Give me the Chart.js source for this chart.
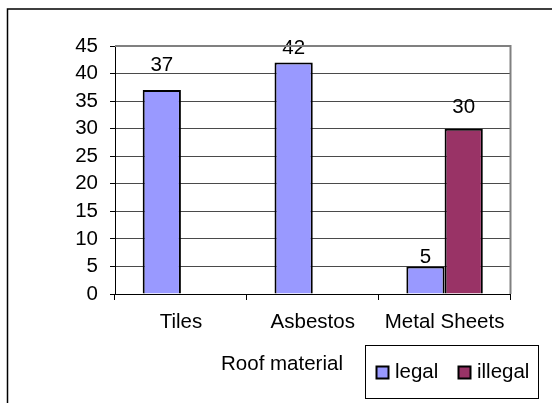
<!DOCTYPE html>
<html>
<head>
<meta charset="utf-8">
<title>Roof material</title>
<script src="https://cdn.jsdelivr.net/npm/chart.js@4/dist/chart.umd.min.js"></script>
<style>
    html, body { margin: 0; padding: 0; background: #fff; }
    #chart-container { width: 552px; height: 403px; }
</style>
</head>
<body>
<div id="chart-container"><canvas id="roof-chart" width="552" height="403"></canvas></div>
<script>
// Chart data
const categories = ['Tiles', 'Asbestos', 'Metal Sheets'];
const legalValues = [37, 42, 5];
const illegalValues = [null, null, 30];
const yTicks = [0, 5, 10, 15, 20, 25, 30, 35, 40, 45];
const axisTitle = 'Roof material';

const FONT = "'Liberation Sans', Arial, sans-serif";
const FONT_SIZE = 20.5;

// Outer frame, axis title, value labels and the boxed legend
const decorPlugin = {
    id: 'decor',
    afterDatasetsDraw(chart, args, opts) {
        const ctx = chart.ctx;
        ctx.save();
        ctx.font = FONT_SIZE + 'px ' + FONT;
        ctx.fillStyle = '#000';
        ctx.textAlign = 'center';
        ctx.textBaseline = 'middle';

        // value labels above bars
        let k = 0;
        chart.data.datasets.forEach((ds, di) => {
            const meta = chart.getDatasetMeta(di);
            meta.data.forEach((bar, i) => {
                const v = ds.data[i];
                if (v === null || v === undefined) return;
                const off = opts.labelOffsets[k++] || 14;
                ctx.fillText(String(v), bar.x, bar.y - off);
            });
        });
        ctx.restore();
    },
    afterDraw(chart, args, opts) {
        const ctx = chart.ctx;
        const area = chart.chartArea;
        ctx.save();

        // plot frame top/right in grey
        ctx.strokeStyle = '#808080';
        ctx.lineWidth = 2;
        ctx.beginPath();
        ctx.moveTo(area.left, area.top);
        ctx.lineTo(area.right, area.top);
        ctx.lineTo(area.right, area.bottom);
        ctx.stroke();

        // outer chart border
        ctx.strokeStyle = '#000';
        ctx.lineWidth = 1.5;
        ctx.strokeRect(7.5, 9, 600, 450);

        // axis title, shifted left by the legend
        ctx.font = FONT_SIZE + 'px ' + FONT;
        ctx.fillStyle = '#000';
        ctx.textAlign = 'center';
        ctx.textBaseline = 'middle';
        ctx.fillText(axisTitle, 282, 364);

        // legend box
        ctx.lineWidth = 1;
        ctx.strokeStyle = '#000';
        ctx.fillStyle = '#fff';
        ctx.fillRect(365.5, 345.5, 173, 53);
        ctx.strokeRect(365.5, 345.5, 173, 53);

        const xs = [376.5, 458.5];
        chart.data.datasets.forEach((ds, di) => {
            const x = xs[di];
            ctx.fillStyle = ds.backgroundColor;
            ctx.fillRect(x, 366.5, 12, 12);
            ctx.lineWidth = 2;
            ctx.strokeStyle = '#000';
            ctx.strokeRect(x, 366.5, 12, 12);
            ctx.fillStyle = '#000';
            ctx.textAlign = 'left';
            ctx.fillText(ds.label, x + 18.5, 372);
        });
        ctx.restore();
    }
};

const ctx = document.getElementById('roof-chart').getContext('2d');
const roofChart = new Chart(ctx, {
    type: 'bar',
    data: {
        labels: categories,
        datasets: [{
            label: 'legal',
            data: legalValues,
            backgroundColor: '#9999FF',
            borderColor: '#000',
            borderWidth: 2
        }, {
            label: 'illegal',
            data: illegalValues,
            backgroundColor: '#993366',
            borderColor: '#000',
            borderWidth: 2
        }]
    },
    options: {
        responsive: false,
        animation: false,
        devicePixelRatio: 1,
        layout: {
            padding: { left: 55, right: 41.5, top: 46, bottom: 59 }
        },
        datasets: {
            bar: {
                categoryPercentage: 0.58,
                barPercentage: 1.0
            }
        },
        scales: {
            x: {
                afterFit: function(scale) { scale.height = 50; },
                grid: {
                    drawOnChartArea: false,
                    tickLength: 6,
                    tickColor: '#000',
                    color: '#000'
                },
                border: { color: '#000', width: 1 },
                ticks: {
                    color: '#000',
                    padding: 10.5,
                    autoSkip: false,
                    maxRotation: 0,
                    font: { family: FONT, size: FONT_SIZE }
                }
            },
            y: {
                min: 0,
                max: 45,
                afterFit: function(scale) { scale.width = 60; },
                afterBuildTicks: function(scale) {
                    scale.ticks = yTicks.map(v => ({ value: v }));
                },
                grid: {
                    color: '#4a4a4a',
                    lineWidth: 1,
                    tickLength: 5,
                    tickColor: '#000'
                },
                border: { color: '#000', width: 1 },
                ticks: {
                    color: '#000',
                    padding: 12,
                    autoSkip: false,
                    font: { family: FONT, size: FONT_SIZE }
                }
            }
        },
        plugins: {
            legend: { display: false },
            tooltip: { enabled: false },
            decor: {
                // label order: legal Tiles, Asbestos, Metal, then illegal Metal
                labelOffsets: [25, 14, 9, 21]
            }
        }
    },
    plugins: [decorPlugin]
});
</script>
</body>
</html>
